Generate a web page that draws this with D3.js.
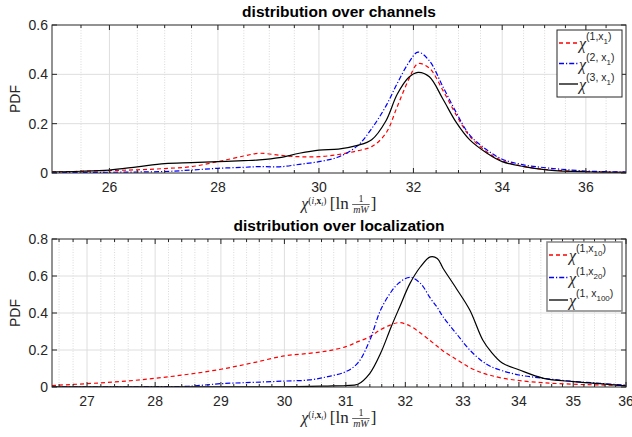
<!DOCTYPE html>
<html>
<head>
<meta charset="utf-8">
<script src="https://cdn.jsdelivr.net/npm/d3@7"></script>
<style>
  body { margin: 0; background: #fff; }
  svg { display: block; font-family: "Liberation Sans", Arial, sans-serif; }
</style>
</head>
<body>
<svg id="chart" width="632" height="437"></svg>
<script>
/* ---------- data : distribution over channels ---------- */
const chanX  = [25, 25.5, 26, 26.5, 27, 27.5, 28, 28.5, 28.8, 29.2, 29.6, 30, 30.4, 30.8, 31.1, 31.4, 31.65, 31.9, 32.1, 32.35, 32.65, 32.95, 33.25, 33.65, 34, 34.5, 35.1, 36, 37];
const chanC1 = [0.004, 0.007, 0.010, 0.013, 0.018, 0.026, 0.046, 0.069, 0.080, 0.072, 0.066, 0.066, 0.075, 0.090, 0.107, 0.160, 0.270, 0.380, 0.443, 0.425, 0.335, 0.235, 0.150, 0.085, 0.050, 0.027, 0.013, 0.006, 0.003];
const chanC2 = [0.002, 0.002, 0.003, 0.004, 0.006, 0.012, 0.019, 0.023, 0.026, 0.025, 0.035, 0.046, 0.065, 0.110, 0.180, 0.270, 0.364, 0.448, 0.490, 0.455, 0.350, 0.245, 0.155, 0.093, 0.056, 0.033, 0.020, 0.008, 0.004];
const chanC3 = [0.005, 0.007, 0.012, 0.025, 0.038, 0.042, 0.046, 0.050, 0.053, 0.062, 0.080, 0.093, 0.097, 0.112, 0.135, 0.210, 0.320, 0.388, 0.408, 0.390, 0.300, 0.205, 0.135, 0.080, 0.046, 0.026, 0.012, 0.005, 0.003];
const chanTicks = [26, 28, 30, 32, 34, 36];
const chanYTicks = [0, 0.2, 0.4, 0.6];

/* ---------- data : distribution over localization ---------- */
const locX   = [26.5, 27, 27.5, 28, 28.5, 29, 29.5, 30, 30.4, 30.7, 31, 31.2, 31.4, 31.58, 31.76, 31.9, 32.08, 32.26, 32.43, 32.55, 32.65, 32.88, 33.12, 33.35, 33.5, 33.7, 34, 34.45, 35, 35.5, 36];
const locC10  = [0.008, 0.018, 0.030, 0.047, 0.069, 0.096, 0.131, 0.168, 0.182, 0.195, 0.218, 0.245, 0.272, 0.310, 0.337, 0.348, 0.330, 0.292, 0.250, 0.220, 0.195, 0.150, 0.105, 0.075, 0.062, 0.048, 0.035, 0.023, 0.015, 0.011, 0.008];
const locC20  = [0.001, 0.001, 0.001, 0.002, 0.004, 0.018, 0.025, 0.032, 0.038, 0.056, 0.083, 0.130, 0.254, 0.416, 0.515, 0.565, 0.593, 0.560, 0.480, 0.430, 0.380, 0.290, 0.200, 0.137, 0.110, 0.088, 0.065, 0.047, 0.030, 0.020, 0.010];
const locC100 = [0.001, 0.001, 0.001, 0.001, 0.001, 0.001, 0.001, 0.001, 0.003, 0.005, 0.008, 0.015, 0.074, 0.182, 0.326, 0.430, 0.560, 0.650, 0.703, 0.695, 0.642, 0.534, 0.416, 0.254, 0.190, 0.130, 0.093, 0.047, 0.029, 0.018, 0.006];
const locTicks = [27, 28, 29, 30, 31, 32, 33, 34, 35, 36];
const locYTicks = [0, 0.2, 0.4, 0.6, 0.8];

const svg = d3.select("#chart");
const left = 52, right = 626;
const serif = "'Liberation Serif', 'DejaVu Serif', serif";

const styles = {
  red:   { color: "#ff0000", dash: "4,3" },
  blue:  { color: "#0000ff", dash: "5,2,1.2,2" },
  black: { color: "#000000", dash: null }
};

const panels = [
  {
    top: 25, bottom: 173, xDomain: [25, 37], yDomain: [0, 0.6],
    xTicks: chanTicks, yTicks: chanYTicks,
    minor: d3.range(25.5, 37, 0.5).filter(v => Math.abs(v % 2) > 0.01),
    title: "distribution over channels",
    x: chanX,
    series: [
      { y: chanC1, style: "red",   sup: "(1,x", sub: "1" },
      { y: chanC2, style: "blue",  sup: "(2, x", sub: "1" },
      { y: chanC3, style: "black", sup: "(3, x", sub: "1" }
    ],
    legend: { x: 557, y: 30, w: 65, h: 67, dy: 20.5, border: "#262626", bw: 1 }
  },
  {
    top: 239, bottom: 387, xDomain: [26.5, 36], yDomain: [0, 0.8],
    xTicks: locTicks, yTicks: locYTicks,
    minor: d3.range(26.6, 36, 0.2).filter(v => Math.abs(v - Math.round(v)) > 0.01),
    title: "distribution over localization",
    x: locX,
    series: [
      { y: locC10,  style: "red",   sup: "(1,x",  sub: "10" },
      { y: locC20,  style: "blue",  sup: "(1,x",  sub: "20" },
      { y: locC100, style: "black", sup: "(1, x", sub: "100" }
    ],
    legend: { x: 547, y: 242, w: 75, h: 69, dy: 22.5, border: "#8c8c8c", bw: 1.6 }
  }
];

panels.forEach(p => {
  const x = d3.scaleLog().domain(p.xDomain).range([left, right]);
  const y = d3.scaleLinear().domain(p.yDomain).range([p.bottom, p.top]);
  const g = svg.append("g");

  // minor grid (dotted)
  g.selectAll(".mgrid").data(p.minor).enter().append("line")
    .attr("x1", d => x(d)).attr("x2", d => x(d))
    .attr("y1", p.top).attr("y2", p.bottom)
    .attr("stroke", "#cfcfcf").attr("stroke-width", 0.8)
    .attr("stroke-dasharray", "1,1.6");

  // major grid
  g.selectAll(".xgrid").data(p.xTicks).enter().append("line")
    .attr("x1", d => x(d)).attr("x2", d => x(d))
    .attr("y1", p.top).attr("y2", p.bottom)
    .attr("stroke", "#dedede").attr("stroke-width", 1);
  g.selectAll(".ygrid").data(p.yTicks.slice(1, -1)).enter().append("line")
    .attr("x1", left).attr("x2", right)
    .attr("y1", d => y(d)).attr("y2", d => y(d))
    .attr("stroke", "#dedede").attr("stroke-width", 1);

  // curves
  const line = d3.line()
    .x((d, i) => x(p.x[i]))
    .y(d => y(d))
    .curve(d3.curveCatmullRom.alpha(0.5));
  const clipId = "clip" + p.top;
  svg.append("clipPath").attr("id", clipId).append("rect")
    .attr("x", left).attr("y", p.top).attr("width", right - left).attr("height", p.bottom - p.top);
  p.series.forEach(s => {
    const st = styles[s.style];
    g.append("path")
      .attr("clip-path", `url(#${clipId})`)
      .attr("d", line(s.y))
      .attr("fill", "none")
      .attr("stroke", st.color)
      .attr("stroke-width", 1.2)
      .attr("stroke-dasharray", st.dash);
  });

  // box
  g.append("rect")
    .attr("x", left).attr("y", p.top)
    .attr("width", right - left).attr("height", p.bottom - p.top)
    .attr("fill", "none").attr("stroke", "#262626").attr("stroke-width", 1);

  // ticks pointing inside, on all four sides
  const tickCol = "#262626";
  p.xTicks.forEach(v => {
    g.append("line").attr("x1", x(v)).attr("x2", x(v)).attr("y1", p.bottom).attr("y2", p.bottom - 5).attr("stroke", tickCol);
    g.append("line").attr("x1", x(v)).attr("x2", x(v)).attr("y1", p.top).attr("y2", p.top + 5).attr("stroke", tickCol);
  });
  p.minor.forEach(v => {
    g.append("line").attr("x1", x(v)).attr("x2", x(v)).attr("y1", p.bottom).attr("y2", p.bottom - 3).attr("stroke", tickCol);
    g.append("line").attr("x1", x(v)).attr("x2", x(v)).attr("y1", p.top).attr("y2", p.top + 3).attr("stroke", tickCol);
  });
  p.yTicks.forEach(v => {
    g.append("line").attr("x1", left).attr("x2", left + 5).attr("y1", y(v)).attr("y2", y(v)).attr("stroke", tickCol);
    g.append("line").attr("x1", right).attr("x2", right - 5).attr("y1", y(v)).attr("y2", y(v)).attr("stroke", tickCol);
  });

  // tick labels
  g.selectAll(".xl").data(p.xTicks).enter().append("text")
    .attr("x", d => x(d)).attr("y", p.bottom + 19)
    .attr("text-anchor", "middle").attr("font-size", 14).attr("fill", "#262626")
    .text(d => d);
  g.selectAll(".yl").data(p.yTicks).enter().append("text")
    .attr("x", 48).attr("y", d => y(d) + 5)
    .attr("text-anchor", "end").attr("font-size", 14).attr("fill", "#262626")
    .text(d => d);

  // y label
  g.append("text")
    .attr("transform", `translate(20,${(p.top + p.bottom) / 2}) rotate(-90)`)
    .attr("text-anchor", "middle").attr("font-size", 14).attr("fill", "#262626")
    .text("PDF");

  // title
  g.append("text")
    .attr("x", (left + right) / 2).attr("y", p.top - 8)
    .attr("text-anchor", "middle").attr("font-size", 15.5).attr("font-weight", "bold")
    .attr("fill", "#000")
    .text(p.title);

  // x label : chi^{(i,x_i)} [ln 1/mW]
  const xl = g.append("g");
  const t = xl.append("text").attr("x", 0).attr("y", 0).attr("font-family", serif).attr("fill", "#262626");
  t.append("tspan").attr("font-size", 16).attr("font-style", "italic").text("χ");
  t.append("tspan").attr("font-size", 9.5).attr("dy", -5).text("(");
  t.append("tspan").attr("font-size", 9.5).attr("font-style", "italic").text("i");
  t.append("tspan").attr("font-size", 9.5).text(",");
  t.append("tspan").attr("font-size", 9.5).attr("font-weight", "bold").text("x");
  t.append("tspan").attr("font-size", 7).attr("font-style", "italic").attr("dy", 2).text("i");
  t.append("tspan").attr("font-size", 9.5).attr("dy", -2).text(")");
  t.append("tspan").attr("font-size", 17).attr("dy", 5).text("\u2009[ln\u2009");
  const w0 = t.node().getComputedTextLength();
  const num = xl.append("text").attr("font-family", serif).attr("font-size", 10).attr("fill", "#262626")
    .attr("text-anchor", "middle").text("1");
  const den = xl.append("text").attr("font-family", serif).attr("font-size", 10).attr("font-style", "italic")
    .attr("fill", "#262626").attr("text-anchor", "middle").text("mW");
  const fw = den.node().getComputedTextLength() + 2;
  num.attr("x", w0 + fw / 2).attr("y", -7);
  den.attr("x", w0 + fw / 2).attr("y", 4);
  xl.append("line").attr("x1", w0).attr("x2", w0 + fw).attr("y1", -4.5).attr("y2", -4.5)
    .attr("stroke", "#262626").attr("stroke-width", 0.7);
  xl.append("text").attr("x", w0 + fw + 1).attr("y", 0).attr("font-family", serif)
    .attr("font-size", 17).attr("fill", "#262626").text("]");
  const totalW = w0 + fw + 7;
  xl.attr("transform", `translate(${(left + right) / 2 - totalW / 2},${p.bottom + 36})`);

  // legend
  const L = p.legend;
  const lg = g.append("g");
  lg.append("rect").attr("x", L.x).attr("y", L.y).attr("width", L.w).attr("height", L.h)
    .attr("fill", "#fff").attr("stroke", L.border).attr("stroke-width", L.bw);
  p.series.forEach((s, i) => {
    const st = styles[s.style];
    const cy = L.y + 13 + i * L.dy;
    lg.append("line").attr("x1", L.x + 2).attr("x2", L.x + 21).attr("y1", cy).attr("y2", cy)
      .attr("stroke", st.color).attr("stroke-width", 1.3).attr("stroke-dasharray", st.dash);
    const lt = lg.append("text").attr("x", L.x + 22).attr("y", cy + 6).attr("fill", "#262626");
    lt.append("tspan").attr("font-family", serif).attr("font-style", "italic").attr("font-size", 16).text("χ");
    lt.append("tspan").attr("font-size", 10.5).attr("dy", -9).text(s.sup);
    lt.append("tspan").attr("font-size", 8).attr("dy", 4).text(s.sub);
    lt.append("tspan").attr("font-size", 10.5).attr("dy", -4).text(")");
  });
});
</script>
</body>
</html>
